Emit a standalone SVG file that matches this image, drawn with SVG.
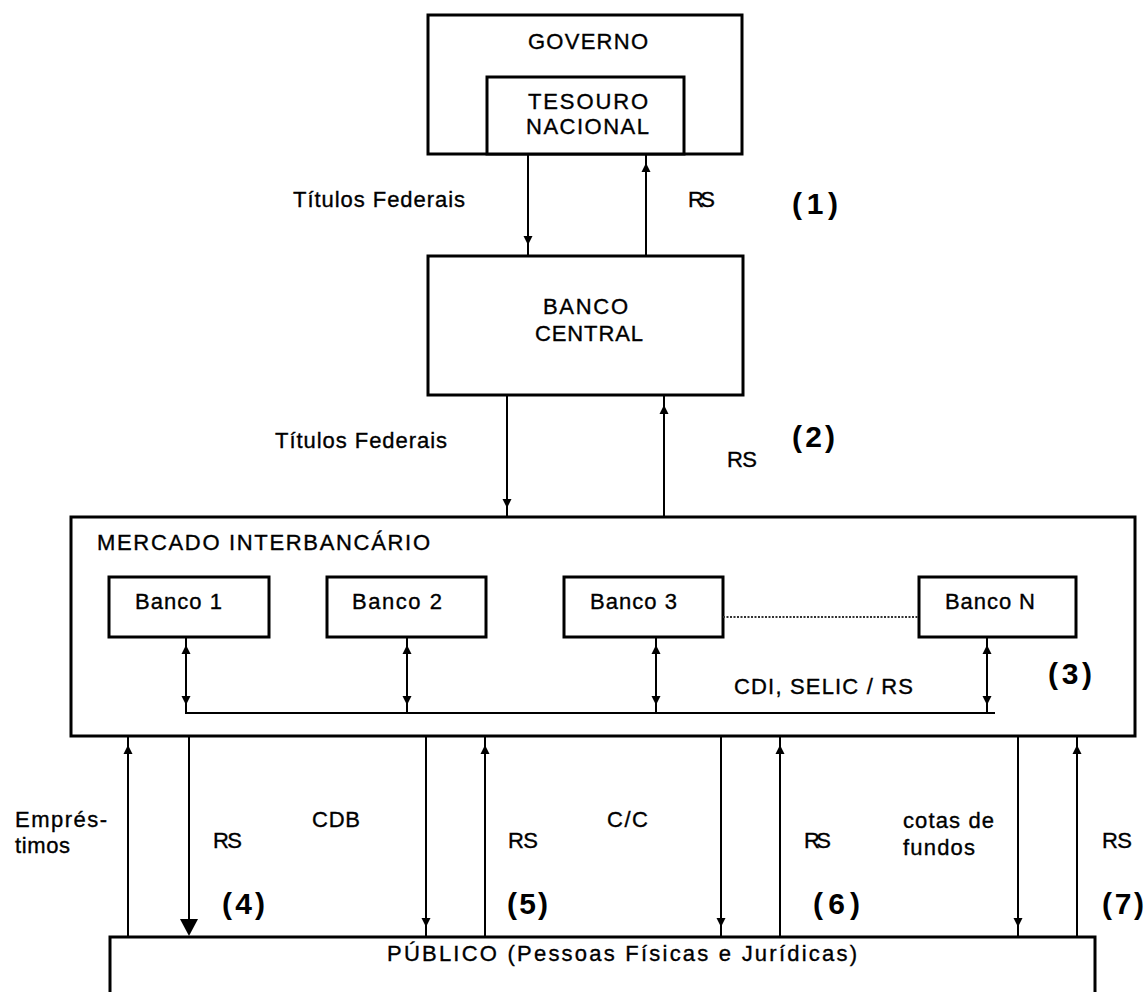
<svg xmlns="http://www.w3.org/2000/svg" width="1145" height="992" viewBox="0 0 1145 992">
<style>
  .box { fill: #fff; stroke: #000; stroke-width: 3; }
  .ln { stroke: #000; stroke-width: 2; fill: none; }
  .dot { stroke: #333; stroke-width: 2; stroke-dasharray: 2 1.5; fill: none; }
  text { font-family: "Liberation Sans", Arial, sans-serif; font-size: 22px; fill: #000; stroke: #000; stroke-width: 0.35; }
  .num { font-weight: bold; font-size: 30px; stroke-width: 0; }
  .ah { fill: #000; }
</style>
<defs>
  <path id="dn" d="M-4.5,-4 L4.5,-4 L0,5 Z"/>
  <path id="up" d="M-4.5,4 L4.5,4 L0,-5 Z"/>
</defs>
<rect width="1145" height="992" fill="#fff"/>

<g id="governo">
  <rect class="box" x="428" y="15" width="314" height="139"/>
  <text x="528" y="49" textLength="120" lengthAdjust="spacing">GOVERNO</text>
</g>
<g id="tesouro">
  <rect class="box" x="487" y="77" width="197" height="77"/>
  <text x="528" y="109" textLength="120" lengthAdjust="spacing">TESOURO</text>
  <text x="526" y="134" textLength="123" lengthAdjust="spacing">NACIONAL</text>
</g>
<g id="banco-central">
  <rect class="box" x="428" y="256" width="315" height="139"/>
  <text x="543" y="314" textLength="85" lengthAdjust="spacing">BANCO</text>
  <text x="535" y="341" textLength="108" lengthAdjust="spacing">CENTRAL</text>
</g>
<g id="mercado">
  <rect class="box" x="71" y="517" width="1064" height="219"/>
  <text x="97" y="550" textLength="333" lengthAdjust="spacing">MERCADO INTERBANCÁRIO</text>
</g>
<g id="banco1">
  <rect class="box" x="109" y="577" width="160" height="60"/>
  <text x="135" y="609" textLength="87" lengthAdjust="spacing">Banco 1</text>
</g>
<g id="banco2">
  <rect class="box" x="327" y="577" width="159" height="60"/>
  <text x="352" y="609" textLength="90" lengthAdjust="spacing">Banco 2</text>
</g>
<g id="banco3">
  <rect class="box" x="564" y="577" width="159" height="60"/>
  <text x="590" y="609" textLength="87" lengthAdjust="spacing">Banco 3</text>
</g>
<g id="bancoN">
  <rect class="box" x="919" y="577" width="157" height="60"/>
  <text x="945" y="609" textLength="90" lengthAdjust="spacing">Banco N</text>
</g>
<g id="publico">
  <path class="box" d="M110,1000 L110,937 L1095,937 L1095,1000"/>
  <text x="387" y="961" textLength="470" lengthAdjust="spacing">PÚBLICO (Pessoas Físicas e Jurídicas)</text>
</g>

<g id="connectors">
  <line class="ln" x1="528" y1="154" x2="528" y2="256"/>
  <use href="#dn" x="528" y="240" class="ah"/>
  <line class="ln" x1="646" y1="154" x2="646" y2="256"/>
  <use href="#up" x="646" y="168" class="ah"/>
  <line class="ln" x1="507" y1="395" x2="507" y2="517"/>
  <use href="#dn" x="507" y="503" class="ah"/>
  <line class="ln" x1="664" y1="395" x2="664" y2="517"/>
  <use href="#up" x="664" y="410" class="ah"/>
  <line class="dot" x1="723" y1="617" x2="919" y2="617"/>
  <polyline class="ln" points="186,637 186,713 995,713"/>
  <line class="ln" x1="407" y1="637" x2="407" y2="713"/>
  <line class="ln" x1="656" y1="637" x2="656" y2="713"/>
  <line class="ln" x1="987" y1="637" x2="987" y2="713"/>
  <use href="#up" x="186" y="650" class="ah"/>
  <use href="#dn" x="186" y="700" class="ah"/>
  <use href="#up" x="407" y="650" class="ah"/>
  <use href="#dn" x="407" y="700" class="ah"/>
  <use href="#up" x="656" y="650" class="ah"/>
  <use href="#dn" x="656" y="700" class="ah"/>
  <use href="#up" x="987" y="650" class="ah"/>
  <use href="#dn" x="987" y="700" class="ah"/>
  <line class="ln" x1="128" y1="736" x2="128" y2="937"/>
  <use href="#up" x="128" y="750" class="ah"/>
  <line class="ln" x1="189" y1="736" x2="189" y2="920"/>
  <path class="ah" d="M180,919 L198,919 L189,936 Z"/>
  <line class="ln" x1="426" y1="736" x2="426" y2="937"/>
  <use href="#dn" x="426" y="922" class="ah"/>
  <line class="ln" x1="485" y1="736" x2="485" y2="937"/>
  <use href="#up" x="485" y="750" class="ah"/>
  <line class="ln" x1="721" y1="736" x2="721" y2="937"/>
  <use href="#dn" x="721" y="922" class="ah"/>
  <line class="ln" x1="780" y1="736" x2="780" y2="937"/>
  <use href="#up" x="780" y="750" class="ah"/>
  <line class="ln" x1="1018" y1="736" x2="1018" y2="937"/>
  <use href="#dn" x="1018" y="922" class="ah"/>
  <line class="ln" x1="1077" y1="736" x2="1077" y2="937"/>
  <use href="#up" x="1077" y="750" class="ah"/>
</g>

<g id="labels">
  <text x="293" y="207" textLength="172" lengthAdjust="spacing">Títulos Federais</text>
  <text x="688" y="207" textLength="27" lengthAdjust="spacing">RS</text>
  <text class="num" x="792" y="214" textLength="46" lengthAdjust="spacing">(1)</text>
  <text x="275" y="448" textLength="172" lengthAdjust="spacing">Títulos Federais</text>
  <text x="727" y="467" textLength="30" lengthAdjust="spacing">RS</text>
  <text class="num" x="792" y="447" textLength="43" lengthAdjust="spacing">(2)</text>
  <text x="734" y="694" textLength="179" lengthAdjust="spacing">CDI, SELIC / RS</text>
  <text class="num" x="1048" y="684" textLength="44" lengthAdjust="spacing">(3)</text>
  <text x="15" y="827" textLength="92" lengthAdjust="spacing">Emprés-</text>
  <text x="15" y="853" textLength="55" lengthAdjust="spacing">timos</text>
  <text x="213" y="848" textLength="29" lengthAdjust="spacing">RS</text>
  <text x="312" y="827" textLength="48" lengthAdjust="spacing">CDB</text>
  <text class="num" x="222" y="914" textLength="43" lengthAdjust="spacing">(4)</text>
  <text x="508" y="848" textLength="30" lengthAdjust="spacing">RS</text>
  <text class="num" x="507" y="914" textLength="41" lengthAdjust="spacing">(5)</text>
  <text x="607" y="827" textLength="41" lengthAdjust="spacing">C/C</text>
  <text x="804" y="848" textLength="27" lengthAdjust="spacing">RS</text>
  <text class="num" x="813" y="914" textLength="47" lengthAdjust="spacing">(6)</text>
  <text x="903" y="828" textLength="91" lengthAdjust="spacing">cotas de</text>
  <text x="903" y="855" textLength="72" lengthAdjust="spacing">fundos</text>
  <text x="1102" y="848" textLength="30" lengthAdjust="spacing">RS</text>
  <text class="num" x="1102" y="914" textLength="42" lengthAdjust="spacing">(7)</text>
</g>
</svg>
